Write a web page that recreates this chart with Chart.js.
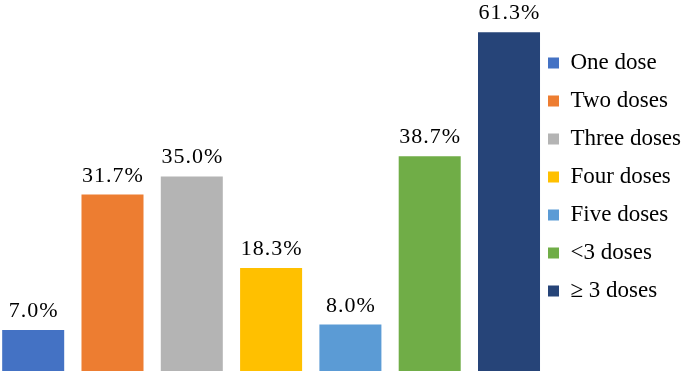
<!DOCTYPE html>
<html>
<head>
<meta charset="utf-8">
<script src="https://cdn.jsdelivr.net/npm/chart.js@4"></script>
<style>
  html, body { margin: 0; padding: 0; background: #fff; }
  #wrap { width: 685px; height: 371px; }
</style>
</head>
<body>
<div id="wrap"><canvas id="myChart"></canvas></div>
<script>
const doseLabels = ['One dose', 'Two doses', 'Three doses', 'Four doses', 'Five doses', '<3 doses', '\u2265 3 doses'];
const dosePercent = [7.0, 31.7, 35.0, 18.3, 8.0, 38.7, 61.3];
const doseColors = ['#4472C4', '#ED7D31', '#B4B4B4', '#FFC000', '#5B9BD5', '#70AD47', '#264478'];

// the picture is cut just below the baseline, bars run off the bottom edge
const yMin = -0.47;
const yMax = 60.53;

const serif = "'Liberation Serif', 'Times New Roman', serif";

// percent labels above each bar
const valueLabels = {
    id: 'valueLabels',
    afterDatasetsDraw(chart) {
        const c = chart.ctx;
        c.save();
        c.font = '22px ' + serif;
        c.letterSpacing = '1px';
        c.fillStyle = '#000';
        c.textAlign = 'center';
        c.textBaseline = 'alphabetic';
        chart.data.datasets.forEach(function (ds, i) {
            const bar = chart.getDatasetMeta(i).data[0];
            c.fillText(ds.data[0].toFixed(1) + '%', bar.x + 0.5, bar.y - 13);
        });
        c.restore();
    }
};

const datasets = doseLabels.map(function (name, i) {
    return {
        label: name,
        data: [dosePercent[i]],
        backgroundColor: doseColors[i],
        borderWidth: 0,
        base: yMin,
        clip: false
    };
});

const ctx = document.getElementById('myChart');
const chart = new Chart(ctx, {
    type: 'bar',
    data: {
        labels: [''],
        datasets: datasets
    },
    options: {
        responsive: true,
        maintainAspectRatio: false,
        animation: false,
        categoryPercentage: 1.0598,
        barPercentage: 0.782,
        layout: {
            padding: { top: 36.5, bottom: 0, left: 9.2, right: 0 }
        },
        scales: {
            x: { display: false },
            y: { display: false, min: yMin, max: yMax }
        },
        plugins: {
            tooltip: { enabled: false },
            legend: {
                position: 'right',
                align: 'start',
                maxWidth: 152,
                labels: {
                    boxWidth: 11,
                    boxHeight: 11,
                    padding: 15,
                    color: '#000',
                    font: { family: serif, size: 23 }
                }
            }
        }
    },
    plugins: [valueLabels]
});
</script>
</body>
</html>
